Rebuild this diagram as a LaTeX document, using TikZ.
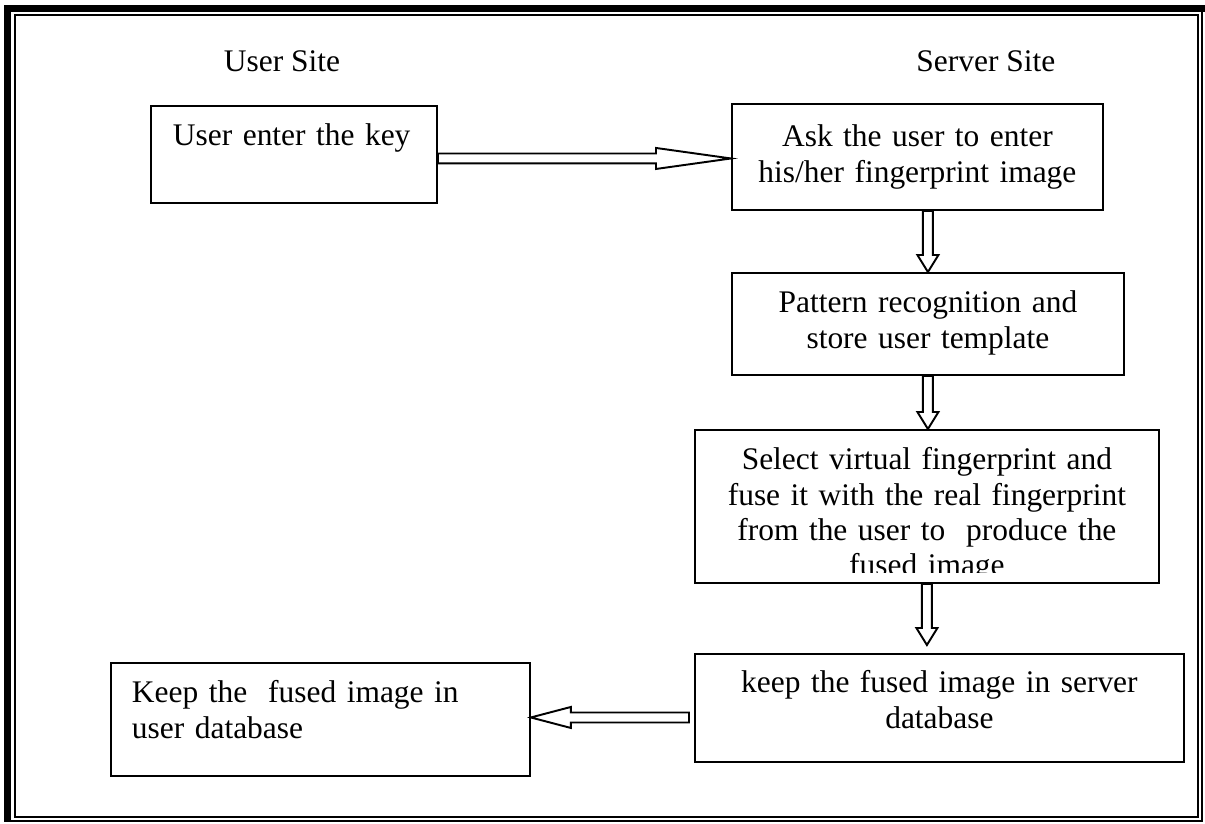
\documentclass[tikz,border=0pt]{standalone}
\usepackage{fontspec}
\setmainfont{Liberation Serif}
\usetikzlibrary{calc}

\tikzset{
  box/.style = {draw, line width=1.1pt, inner sep=0pt, anchor=north west, align=center},
  hollow/.style = {to path={
     ($(\tikztostart)!0.1cm!90:(\tikztotarget)$)
     -- ($(\tikztotarget)!#1!(\tikztostart)!0.1cm!-90:(\tikztostart)$)
     -- ($(\tikztotarget)!#1!(\tikztostart)!0.21cm!-90:(\tikztostart)$)
     -- (\tikztotarget)
     -- ($(\tikztotarget)!#1!(\tikztostart)!0.21cm!90:(\tikztostart)$)
     -- ($(\tikztotarget)!#1!(\tikztostart)!0.1cm!90:(\tikztostart)$)
     -- ($(\tikztostart)!0.1cm!-90:(\tikztotarget)$) -- cycle}}
}

\begin{document}
\begin{tikzpicture}[
     x = 0.02cm, y = -0.02cm,
     font = \fontsize{17.9}{20}\selectfont,
     line width = 1.1pt,
     line join = miter
    ]
    \useasboundingbox (0,0) rectangle (1205,823);
    % frame
    \fill (4,5) rectangle (1205,12);
    \fill (4,5) rectangle (11,822);
    \draw[line width=1pt] (15,15) rectangle (1198,817);
    \draw[line width=0.8pt] (11,821) -- (1202,821) -- (1202,12);

    \node (usite) at (282,61) {User Site};
    \node[right of = usite, node distance = 14.08cm] (ssite) {Server Site};

    \node[box, align=left, inner xsep=0.44cm, text width=4.84cm,
          text height=0.8cm, text depth=1.14cm] (key) at (150,105)
       {User enter the key};
    \node[box, text width=7.42cm, text height=0.86cm, text depth=1.26cm]
       (ask) at (731,103) {Ask the user to enter\\ his/her fingerprint image};
    \node[box, text width=7.84cm, text height=0.8cm, text depth=1.24cm]
       (recog) at (731,272) {Pattern recognition and\\ store user template};
    \node[box, text width=9.28cm, text height=0.8cm, text depth=2.26cm]
       (fuse) at (694,429) {Select virtual fingerprint and\\
        fuse it with the real fingerprint\\ from the user to\ \ produce the\\
        fused image};
    \fill[white] ([shift={(3,-11)}]fuse.south west) rectangle ([shift={(-3,-2)}]fuse.south east);
    \node[box, text width=9.78cm, text height=0.78cm, text depth=1.38cm]
       (server) at (694,653) {keep the fused image in server\\ database};
    \node[box, align=left, inner xsep=0.42cm, text width=7.54cm,
          text height=0.8cm, text depth=1.46cm] (userdb) at (110,662)
       {Keep the\ \ fused image in\\ user database};

    % arrows
    \coordinate (k1) at ([shift={(0,4)}]key.east);
    \coordinate (k2) at (k1 -| ask.west);
    \draw (k1) to[hollow=1.5cm] (k2);

    \coordinate (a1) at (recog.north |- ask.south);
    \draw (a1) to[hollow=0.34cm] (recog.north);

    \coordinate (r1) at (recog.south |- fuse.north);
    \draw (recog.south) to[hollow=0.34cm] (r1);

    \coordinate (f0) at (fuse.south |- server.north);
    \coordinate (f1) at ([shift={(0,-8)}]f0);
    \draw (fuse.south) to[hollow=0.34cm] (f1);

    \coordinate (s0) at (server.west |- userdb.east);
    \coordinate (s1) at ([shift={(-5,-2)}]s0);
    \coordinate (u1) at (userdb.east |- s1);
    \draw (s1) to[hollow=0.8cm] (u1);
\end{tikzpicture}
\end{document}
